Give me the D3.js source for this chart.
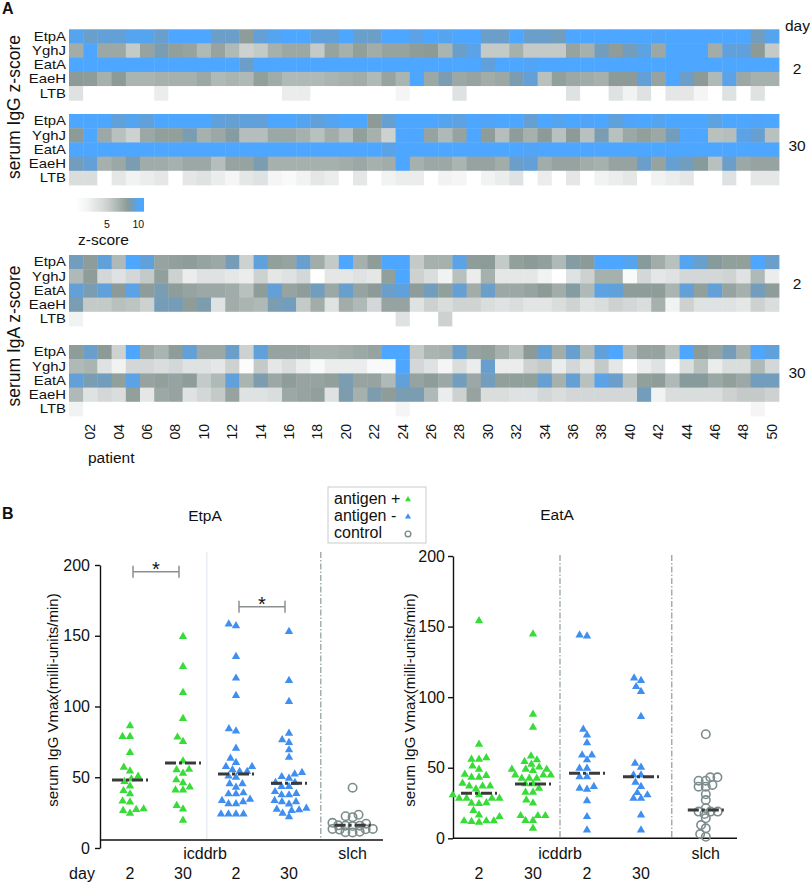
<!DOCTYPE html>
<html><head><meta charset="utf-8">
<script src="https://cdn.jsdelivr.net/npm/d3@7"></script>
<style>
body{margin:0;background:#fff;}
svg text{font-family:"Liberation Sans",Arial,Helvetica,sans-serif;fill:#111;}
</style></head><body>
<svg id="chart" width="810" height="882"></svg>
<script>
// ---------------- DATA ----------------
const patients = d3.range(1, 51).map(i => String(i).padStart(2, "0"));
const antigens = ["EtpA", "YghJ", "EatA", "EaeH", "LTB"];
const dayLabels = ["2", "30", "2", "30"];
const colorbarTicks = [5, 10];
const yTicks = [0, 50, 100, 150, 200];

// serum IgG z-score, day 2
const igg2_EtpA = [10,9.3,9.5,9.5,10,10,9.3,11,10.3,11,9.2,9.2,8.2,9.5,10,11,10.5,9.6,9.5,11,9.3,9.2,11,10.3, 9.8,11,10,10.8,11,9.2,9.2,11,9.2,9.2,9.0,11,11,10.8,10.3,11,11,10.2,11,11,11,11,11,11,9.0,10];
const igg2_YghJ = [7.2,11,7.5,7.5,5.5,7.8,8.8,8,7.8,6.5,7.8,6.5,5,5.5,7,7.5,7.5,5.5,7.8,7,8,7.2,7.8,7.8, 8.2,8.3,6.8,9.2,9.8,5.5,5.5,7,5.5,5.5,5.5,7.8,7,9,8.2,9,9.7,7.5,10.8,10.8,10.8,7.2,9.6,9.6,8.3,5.5];
const igg2_EatA = [10.8,10.8,10.7,10.7,10.8,10.8,10.6,10.6,10.7,10.8, 10.8,10.6,9.2,10.8,10.6,10.6,10.7,10.6,10.5,10.8, 10.6,10.7,10.6,10.7,10.6,10.6,10.6,10.7,10.6,9.6, 10.8,10.8,10.1,10.6,10.7,10.6,10.7,10.8,10.6,10.6, 10.6,10.6,10.6,10.6,10.6,10.6,10.5,10.5,10.8,10.8];
const igg2_EaeH = [8.3,8.2,7,8.3,6.8,6.8,7,7,7,7.5,6.5,6.8,6.5,8,7.3,6.5,6.5,6.5,6.8,7,7.2,6.5,7.8,6.8, 11,7.5,8.8,7.5,7.8,7.2,7.5,8.8,9.5,6,8,7.5,7.3,7,8.3,8.3,9.5,7.8,10.5,9.2,8.3,6.5,9.8,7.5,7,7];
const igg2_LTB  = [3.5,0,0,0,0,0,2.5,0,0,0, 0,0,0,0,0,2.5,2.5,0,0,0, 0,0,0,1.5,0,0,0,3.5,0,0, 0,0,0,0,0,3.5,0,0,3.5,2, 3.5,0,3,3,1.5,0,3.5,0,3.5,0];

// serum IgG z-score, day 30
const igg30_EtpA = [10.8,10.8,10.3,9.6,10,9.6,10.3,11,11,10.5,9.6,9.4,9.6,9.5,10.5,11,10,9.6,10,11,11,8.3,9.4,11, 10.5,10.3,10,9.7,10.8,10.2,10.3,10.8,9.4,10.8,10,10.8,10.2,10.8,9.6,10.2,10.8,10,10.8,10.8,10.3,9.7,10.8,10.8,10.2,10.3];
const igg30_YghJ = [8.3,11,7.5,6,5,7.5,8,8,8.8,7,7.5,8.5,6.2,6.2,7.5,7.5,7,6,7.2,6.2,8,7,5,10.8, 10.8,7.8,6.5,7.8,10.5,8.2,6.2,8.2,7,8.3,6,8.3,6,8.8,6,7.5,8,7.5,9,10.5,10.5,6,6.2,9.8,9.4,6];
const igg30_EatA = [10.8,10.8,10.7,10.7,10.8,10.7,10.8,10.8,10.7,10.7, 10.8,10.8,10.7,10.7,10.6,10.6,10.6,10.6,10.6,10.7, 10.7,10.6,9.8,10.7,10.6,10.6,10.6,10.6,10.8,10.8, 10.8,10.7,10.1,10.7,10.7,10.7,10.8,10.8,10.6,10.6, 10.6,10.6,10.6,10.6,10.7,10.6,10.6,10.8,10.8,10.7];
const igg30_EaeH = [9,9.5,7,7.5,8.8,7.3,7.3,7,7.5,7.5,6.2,7.8,7.8,8.8,7,7,7,7,7,7.2,7.5,7,7.2,11, 7,7.5,7.5,6.8,7.8,7.8,7.2,9.2,9.5,7.2,7.8,7.8,7.2,7,7.8,7.8,9.2,7.8,9.4,9,8.4,6,9.2,7.5,7.8,7.8];
const igg30_LTB  = [4,4,0,3,2,2.5,3,0,3,3.5,2.5,1.5,3,3.5,1.5,1,2,3,2.5,0,3,0,2,2.5, 2.5,0,2,1.5,0,2,2.5,3.5,0,2.5,0,3,0,2,2.5,3,0,2,2.5,3,0,0,3.5,0,3,3];

// serum IgA z-score, day 2
const iga2_EtpA = [9,8.2,9.6,6.5,11,9.6,7.8,8,8.2,7.8,7.5,8.9,5,9.6,8,7.8,9.3,7.2,5.5,10.8,7,8.2,10.8,11, 5.5,7,7,9.8,8.2,8.3,5.5,8,8.3,8,6.5,8.5,8.3,10.8,10.8,10,8.4,7.2,6,10,9.3,8.4,8,8,11,9.2];
const iga2_YghJ = [6.5,8.2,4.5,3.5,4.5,5.5,8,5,2.5,3.5,3.5,3,2.5,5,3,3.5,4.5,0,3,3,3.5,3,8,10.5, 5,4,2,6,2.5,7,3,3,3,2,0,3.5,5,7,7,1,4.5,3,3.5,4.5,4.5,4.5,4.8,3.5,6.5,2.5];
const iga2_EatA = [9.5,8.8,9.6,8.3,9.8,8.2,8.8,8.2,7.8,7.5,7.5,7.3,6,8.2,9.5,7.8,8.2,9,7.5,9.3,7.8,8.3,9.2,9.6, 8.2,9,8,9.4,7.2,9.2,7.5,7.5,7.8,8.3,7.2,8.5,6.5,9.7,9.6,8.2,8.2,8.2,6.8,9.5,8,9.5,7.8,7,9,8.2];
const iga2_EaeH = [8.8,5.5,5.5,6,5.8,5,8.9,8.9,8.2,8.7,3.5,7.2,6.8,6.5,8.8,9,5.5,7.2,3.5,7.2,6.5,4.5,7.8,7.8, 3.5,5,4,4.8,4.8,4,3.5,4,3.2,3.2,4,4.8,3.5,4,5,4.5,4,7,2,5,3.5,3.5,3.5,3,5,4];
const iga2_LTB  = [2,0,0,0,0,0,0,0,0,0, 0,0,0,0,0,0,0,0,0,0, 0,0,0,3.5,0,0,5,0,0,0, 0,0,0,0,0,0,0,0,0,0, 0,0,0,0,0,0,0,0,0,0];

// serum IgA z-score, day 30
const iga30_EtpA = [8.2,9.3,8.3,5,11,7.5,6.8,8.2,9.5,7.5,7.5,9.2,5,9.6,7.8,7.8,7.8,7,7,7.2,7.5,7.8,10.8,11, 5.5,6.8,7,9.2,7.8,8,7,6,8.3,9.5,7.2,9.3,6.5,9.6,10.8,6.5,7.8,7.8,6,10.8,8.3,7.8,8.9,7,10.8,9.6];
const iga30_YghJ = [6.5,6.8,3.5,2,4.5,4.5,4,4.5,3.5,3.5,3,5,0.5,5.5,3,4,2.5,1,2.5,2.5,2.5,1,1,10.5, 4.5,3.5,1.5,4,2.5,9.3,2.5,2.5,5,5.5,2.5,4.5,3,5.5,3,0,2.5,3.5,0,4,6,2.5,4,4,6.5,4.5];
const iga30_EatA = [9.5,8.8,9,8,9.8,7.8,8,7.8,8.2,5.5,6.5,9.6,6.8,8.7,7.5,8.2,7.8,7.8,8,8.8,7.8,7.8,6.5,9.6, 7.8,8.2,7.5,9,7.5,9,8,8,8,9.4,7,9.4,6,9.8,9.2,6,8,8.2,6.5,8.4,8.4,7.5,8,7.5,9,9];
const iga30_EaeH = [6.5,3.5,4.5,4,8,3,7.5,7.8,3.5,4.5,5.5,7.8,3.5,3.5,4,7.5,7.8,8,3.5,8.7,7,8.7,8.2,8.8, 8.8,6.5,2.5,5,7.8,4,4,3.5,3.5,4.5,4,4.5,4.5,4.5,4.5,4.5,9,2,4,4,4,4,5,5.5,5.5,5];
const iga30_LTB  = [2,0,0,0,0,0,0,0,0,0, 0,0,0,0,0,0,0,0,0,0, 0,0,0,1.5,0,0,0,0,0,0, 0,0,0,0,0,0,0,0,0,0, 0,0,0,0,0,0,0,0,1.5,0];

// Panel B: serum IgG Vmax (milli-units/min)
const etpaPos2  = [86.3,78.7,78.7,67.4,57,54.4,50.7,48.8,46.9,43.8,40.5,38.2,33.2,32.5,27.6,27.1,26.4,24.5];
const etpaPos30 = [149.4,128.2,109.8,91.5,78.3,75.2,61.5,55.5,55.2,52.8,48.1,46,43,41,41,30,27.5,19.5];
const etpaNeg2  = [158.2,157,135.3,120,107.7,84.2,82.7,70.5,63.4,60.3,57.5,57.5,55.2,54,54,50.8,50,45.3,45.3,42.9,38.9,38.2,38.2,34.4,33.5,32.7,31.2,31.2,24,24,24,24];
const etpaNeg30 = [153,118.3,103.5,81,76.4,74.5,69.3,64.1,53.3,52.3,50.4,49.3,46.2,46.2,43.4,43.4,39.8,38.5,37.5,37.5,33.5,32.7,32.7,31.1,28,27.4,26.9,26.4,24.5,22.1];
const etpaCtrl  = [42.6,23.5,22.5,21.8,17.8,17.2,16,15.8,15.8,15.5,13.5,13.5,13.2,13,11.5,11.2,11];
const etpaMedian = [48, 60, 52.3, 45.7, 16];

const eataPos2  = [154,66.6,57,56,56,51.2,48.9,45.3,44.4,43.2,43.2,39,37,37,37,34.9,30.7,30.7,28.3,28.3,28.3,28.3,25.2,24.8,24.5,19.6,16.5,15.3,12.3,12.3,12.3,11.8,11.3];
const eataPos30 = [144.7,87.8,78.6,58.3,55.5,54.3,52.4,50.5,48.9,48.9,48.9,47.9,44.8,44.8,44.8,42.5,42.5,42.5,38.5,38.5,35.4,32.6,32.6,27.1,25,16,16,16,12.5,12.5,7.1];
const eataNeg2  = [144,143.3,77.2,73.2,67.7,59,59,55.5,49.6,49.6,43.6,43.6,36.6,35.4,34.7,26.6,15.3,5.9];
const eataNeg30 = [113.5,111.7,107.4,103.9,86.2,53.1,50.3,44.8,44.8,39.7,36.6,32.3,30.7,28.3,28.3,16.5,5.9];
const eataCtrl  = [73.7,43.2,43.2,40.8,40.8,37.8,36.6,36.6,31.2,27.1,21.3,18.9,18.9,18.9,17.2,14.2,9.4,7.1,3,1.1];
const eataMedian = [32, 38.5, 46, 43.6, 20];

// ---------------- CHECK ----------------
[["igg2_EtpA",igg2_EtpA],["igg2_YghJ",igg2_YghJ],["igg2_EatA",igg2_EatA],["igg2_EaeH",igg2_EaeH],["igg2_LTB",igg2_LTB],
 ["igg30_EtpA",igg30_EtpA],["igg30_YghJ",igg30_YghJ],["igg30_EatA",igg30_EatA],["igg30_EaeH",igg30_EaeH],["igg30_LTB",igg30_LTB],
 ["iga2_EtpA",iga2_EtpA],["iga2_YghJ",iga2_YghJ],["iga2_EatA",iga2_EatA],["iga2_EaeH",iga2_EaeH],["iga2_LTB",iga2_LTB],
 ["iga30_EtpA",iga30_EtpA],["iga30_YghJ",iga30_YghJ],["iga30_EatA",iga30_EatA],["iga30_EaeH",iga30_EaeH],["iga30_LTB",iga30_LTB]]
 .forEach(([n,a]) => { if (a.length !== 50) throw new Error(n + " has " + a.length); });

// ---------------- DRAW ----------------
const svg = d3.select("#chart");
const zColor = d3.scaleLinear()
  .domain([0, 2, 5, 8.3, 9.2, 10.3])
  .range(["#ffffff", "#f1f2f2", "#cdd2d1", "#8c9b97", "#6b9ec8", "#4da6ff"])
  .clamp(true);

svg.append("text").attr("x", 2).attr("y", 8).attr("dominant-baseline", "central")
  .attr("font-size", 16).attr("font-weight", "bold").text("A");
svg.append("text").attr("x", 2).attr("y", 513).attr("dominant-baseline", "central")
  .attr("font-size", 16).attr("font-weight", "bold").text("B");

const xH = d3.scaleBand().domain(patients).range([69, 779]);
const yRow = d3.scaleBand().domain(antigens).range([0, 71]);
const blocks = [
  { top: 29.3, rows: [igg2_EtpA, igg2_YghJ, igg2_EatA, igg2_EaeH, igg2_LTB] },
  { top: 114,  rows: [igg30_EtpA, igg30_YghJ, igg30_EatA, igg30_EaeH, igg30_LTB] },
  { top: 255,  rows: [iga2_EtpA, iga2_YghJ, iga2_EatA, iga2_EaeH, iga2_LTB] },
  { top: 345,  rows: [iga30_EtpA, iga30_YghJ, iga30_EatA, iga30_EaeH, iga30_LTB] }
];
blocks.forEach(b => {
  const g = svg.append("g").attr("transform", `translate(0,${b.top})`);
  antigens.forEach((a, r) => {
    g.append("g").selectAll("rect").data(b.rows[r]).join("rect")
      .attr("x", (d, i) => xH(patients[i]))
      .attr("y", yRow(a))
      .attr("width", xH.bandwidth() + 0.4)
      .attr("height", yRow.bandwidth() + 0.4)
      .attr("fill", d => zColor(d));
    g.append("text")
      .attr("transform", `translate(66,${yRow(a) + yRow.bandwidth() / 2 + 0.3}) scale(1.2,1)`)
      .attr("text-anchor", "end").attr("dominant-baseline", "central")
      .attr("font-size", 12.4).text(a);
  });
});

// vertical block titles
[["serum IgG z-score", 107], ["serum IgA z-score", 336]].forEach(([t, cy]) => {
  svg.append("text").attr("transform", `translate(14,${cy}) rotate(-90)`)
    .attr("text-anchor", "middle").attr("dominant-baseline", "central")
    .attr("font-size", 17.5).text(t);
});
// day labels on right
svg.append("text").attr("x", 785).attr("y", 25).attr("dominant-baseline", "central").attr("font-size", 15.5).text("day");
[["2", 68], ["30", 145], ["2", 283], ["30", 372]].forEach(([t, cy]) => {
  svg.append("text").attr("x", 797).attr("y", cy).attr("text-anchor", "middle")
    .attr("dominant-baseline", "central").attr("font-size", 15.5).text(t);
});

// patient axis
const pAxis = svg.append("g").attr("transform", "translate(0,416)")
  .call(d3.axisBottom(xH).tickValues(patients.filter((p, i) => i % 2 === 1)).tickSize(0));
pAxis.select(".domain").remove();
pAxis.selectAll("text")
  .attr("transform", "rotate(-90)").attr("x", -8).attr("y", 0).attr("dy", "0.35em")
  .attr("text-anchor", "end").attr("font-size", 14)
  .attr("font-family", '"Liberation Sans", Arial, sans-serif');
svg.append("text").attr("x", 88).attr("y", 457).attr("dominant-baseline", "central")
  .attr("font-size", 15.5).text("patient");

// colorbar
const cbX = d3.scaleLinear().domain([0.2, 10.9]).range([76.7, 144]);
const grad = svg.append("defs").append("linearGradient").attr("id", "cb")
  .attr("x1", "0%").attr("x2", "100%").attr("y1", "0%").attr("y2", "0%");
d3.range(0, 1.0001, 0.02).forEach(t => {
  const v = cbX.domain()[0] + t * (cbX.domain()[1] - cbX.domain()[0]);
  grad.append("stop").attr("offset", (t * 100) + "%").attr("stop-color", zColor(v));
});
svg.append("rect").attr("x", cbX(0.2)).attr("y", 198).attr("width", cbX(10.9) - cbX(0.2))
  .attr("height", 13.7).attr("fill", "url(#cb)");
svg.selectAll(".cbt").data(colorbarTicks).join("text").attr("class", "cbt")
  .attr("x", d => cbX(d)).attr("y", 223.5).attr("text-anchor", "middle")
  .attr("dominant-baseline", "central").attr("font-size", 10.5).text(d => d);
svg.append("text").attr("x", 78).attr("y", 239).attr("dominant-baseline", "central")
  .attr("font-size", 15.5).text("z-score");

// ---------------- PANEL B ----------------
const GREEN = "#38dc38", BLUE = "#3f8ff0", GREYC = "#7d8c8c";
const triangle = d3.symbol().type(d3.symbolTriangle).size(30);

function swarm(values, y, cx, dx, dy) {
  const pts = values.map(v => ({ v, py: y(v) })).sort((a, b) => a.v - b.v);
  const placed = [];
  pts.forEach(p => {
    const cands = [0];
    placed.forEach(q => {
      const t = (p.py - q.py) / dy;
      if (Math.abs(t) < 1) {
        const off = dx * Math.sqrt(1 - t * t);
        cands.push(q.px - cx - off, q.px - cx + off);
      }
    });
    cands.sort((a, b) => Math.abs(a) - Math.abs(b) || a - b);
    for (const c of cands) {
      const ok = placed.every(q => {
        const ex = (cx + c - q.px) / dx, ey = (p.py - q.py) / dy;
        return ex * ex + ey * ey >= 0.999;
      });
      if (ok) { p.px = cx + c; break; }
    }
    placed.push(p);
  });
  return pts;
}

function drawPanel(p) {
  const y = d3.scaleLinear().domain([0, 200]).range([p.y0, p.y200]);
  const gx = d3.scaleLinear().domain([0, 3]).range([p.x0, p.x0 + 3 * p.step]);
  const pos = [0, 1, 2, 3, 4.2];

  svg.append("text").attr("x", p.titleX).attr("y", p.titleY).attr("text-anchor", "middle")
    .attr("dominant-baseline", "central").attr("font-size", 15.5).text(p.title);

  p.seps.forEach(s => {
    svg.append("line").attr("x1", gx(s.at)).attr("x2", gx(s.at))
      .attr("y1", p.sepTop).attr("y2", p.baseY)
      .attr("stroke", s.solid ? "#dce6ee" : "#8d9b9b")
      .attr("stroke-width", s.solid ? 1 : 1.2)
      .attr("stroke-dasharray", s.solid ? null : "6,2,1.5,2");
  });

  const ax = svg.append("g").attr("transform", `translate(${p.axisX},0)`)
    .call(d3.axisLeft(y).tickValues(yTicks).tickSize(5).tickSizeOuter(0).tickPadding(p.pad));
  ax.attr("font-size", 16).attr("font-family", '"Liberation Sans", Arial, sans-serif').attr("color", "#111");
  ax.selectAll("path,line").attr("stroke-width", 1.4);
  svg.append("line").attr("x1", p.axisX).attr("x2", p.xEnd).attr("y1", p.baseY).attr("y2", p.baseY)
    .attr("stroke", "#111").attr("stroke-width", 1.4);

  svg.append("text").attr("transform", `translate(${p.ylabX},700) rotate(-90)`)
    .attr("text-anchor", "middle").attr("dominant-baseline", "central")
    .attr("font-size", 15).text("serum IgG Vmax(milli-units/min)");

  const groups = [
    { vals: p.data[0], color: GREEN, shape: "tri" },
    { vals: p.data[1], color: GREEN, shape: "tri" },
    { vals: p.data[2], color: BLUE, shape: "tri" },
    { vals: p.data[3], color: BLUE, shape: "tri" },
    { vals: p.data[4], color: GREYC, shape: "circ" }
  ];
  groups.forEach((g, i) => {
    const cx = gx(pos[i]);
    const pts = g.shape === "tri" ? swarm(g.vals, y, cx, 7.5, 6.5) : swarm(g.vals, y, cx, 7.2, 4.3);
    const gg = svg.append("g");
    if (g.shape === "tri") {
      gg.selectAll("path").data(pts).join("path")
        .attr("d", triangle).attr("transform", d => `translate(${d.px},${d.py})`)
        .attr("fill", g.color);
    } else {
      gg.selectAll("circle").data(pts).join("circle")
        .attr("cx", d => d.px).attr("cy", d => d.py).attr("r", 4.2)
        .attr("fill", "none").attr("stroke", g.color).attr("stroke-width", 1.6);
    }
    svg.append("line").attr("x1", cx - 18).attr("x2", cx + 18)
      .attr("y1", y(p.medians[i])).attr("y2", y(p.medians[i]))
      .attr("stroke", "#3a3a3a").attr("stroke-width", 3).attr("stroke-dasharray", "11,3,3,3");
  });

  (p.brackets || []).forEach(b => {
    const yy = y(b.y), xa = gx(b.from) + 3, xb = gx(b.to) - 4;
    const bg = svg.append("g").attr("stroke", "#8a8f8f").attr("stroke-width", 1.5);
    bg.append("line").attr("x1", xa).attr("x2", xb).attr("y1", yy).attr("y2", yy);
    bg.append("line").attr("x1", xa).attr("x2", xa).attr("y1", yy - 6).attr("y2", yy + 6);
    bg.append("line").attr("x1", xb).attr("x2", xb).attr("y1", yy - 6).attr("y2", yy + 6);
    svg.append("text").attr("x", (xa + xb) / 2).attr("y", yy + 4).attr("text-anchor", "middle")
      .attr("font-size", 20).text("*");
  });

  svg.append("text").attr("x", p.siteX).attr("y", 853).attr("text-anchor", "middle")
    .attr("dominant-baseline", "central").attr("font-size", 16).text("icddrb");
  svg.append("text").attr("x", gx(4.2)).attr("y", 853).attr("text-anchor", "middle")
    .attr("dominant-baseline", "central").attr("font-size", 16).text("slch");
  dayLabels.forEach((t, i) => {
    svg.append("text").attr("x", gx(i)).attr("y", 873).attr("text-anchor", "middle")
      .attr("dominant-baseline", "central").attr("font-size", 16).text(t);
  });
  if (p.showDay) {
    svg.append("text").attr("x", 82).attr("y", 873).attr("text-anchor", "middle")
      .attr("dominant-baseline", "central").attr("font-size", 16).text("day");
  }
}

drawPanel({
  title: "EtpA", titleX: 205, titleY: 515,
  y0: 848, y200: 565, baseY: 840, axisX: 100, xEnd: 383, pad: 5,
  x0: 130, step: 53, sepTop: 552, ylabX: 52, siteX: 205, showDay: true,
  seps: [{ at: 1.45, solid: true }, { at: 3.6, solid: false }],
  data: [etpaPos2, etpaPos30, etpaNeg2, etpaNeg30, etpaCtrl], medians: etpaMedian,
  brackets: [{ from: 0, to: 1, y: 195.3 }, { from: 2, to: 3, y: 170.5 }]
});
drawPanel({
  title: "EatA", titleX: 557, titleY: 514,
  y0: 838.3, y200: 556, baseY: 838.3, axisX: 453, xEnd: 737, pad: 3,
  x0: 479, step: 54, sepTop: 555, ylabX: 409, siteX: 560, showDay: false,
  seps: [{ at: 1.5, solid: false }, { at: 3.57, solid: false }],
  data: [eataPos2, eataPos30, eataNeg2, eataNeg30, eataCtrl], medians: eataMedian,
  brackets: []
});

// legend
const legendItems = [
  { label: "antigen +", color: GREEN, shape: "tri" },
  { label: "antigen -", color: BLUE, shape: "tri" },
  { label: "control", color: GREYC, shape: "circ" }
];
const lg = svg.append("g");
lg.append("rect").attr("x", 328).attr("y", 487).attr("width", 98).attr("height", 56)
  .attr("fill", "#fff").attr("stroke", "#c8cdcd").attr("stroke-width", 1);
legendItems.forEach((d, i) => {
  const cy = 498.5 + i * 17.2;
  lg.append("text").attr("x", 334).attr("y", cy).attr("dominant-baseline", "central")
    .attr("font-size", 16).text(d.label);
  if (d.shape === "tri") {
    lg.append("path").attr("d", d3.symbol().type(d3.symbolTriangle).size(16)())
      .attr("transform", `translate(408,${cy + 1})`).attr("fill", d.color);
  } else {
    lg.append("circle").attr("cx", 408).attr("cy", cy + 1).attr("r", 2.8)
      .attr("fill", "none").attr("stroke", d.color).attr("stroke-width", 1.4);
  }
});
</script></body></html>
